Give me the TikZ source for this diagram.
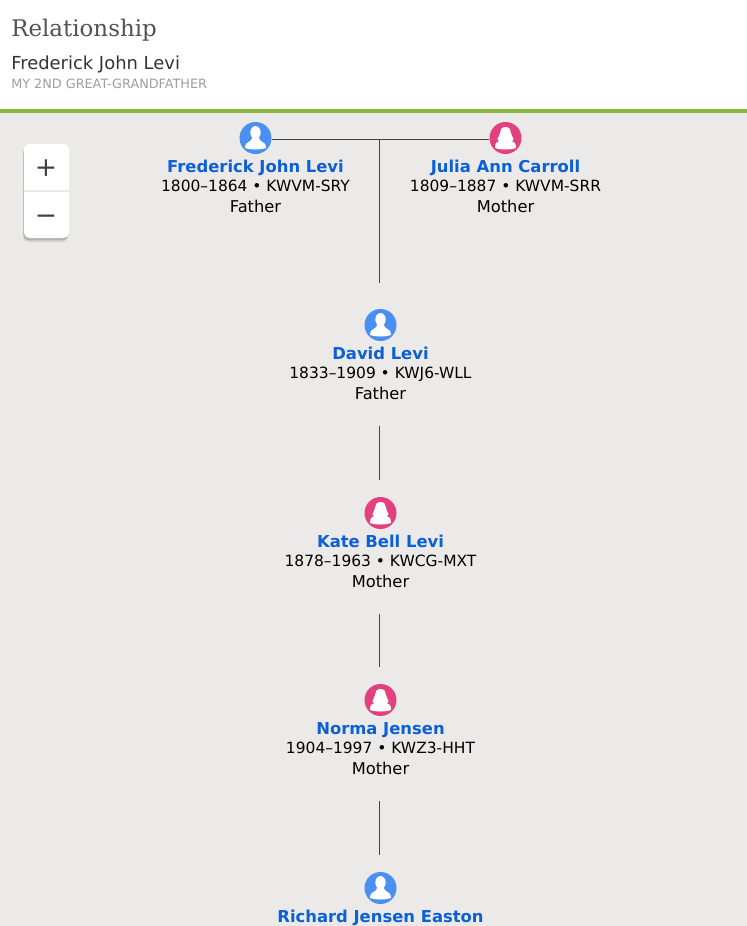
\documentclass[tikz,border=0pt]{standalone}
\usepackage{fontspec}
\usepackage{xcolor}
\usetikzlibrary{positioning, calc, shadows}
\setmainfont{DejaVu Sans}
\newfontfamily\slabfont{DejaVu Serif}
\definecolor{PageGray}{HTML}{ECEAE8}
\definecolor{LeafGreen}{HTML}{8AB83E}
\definecolor{MaleBlue}{HTML}{4A90F2}
\definecolor{FemalePink}{HTML}{E2407E}
\definecolor{NameBlue}{HTML}{0B60D6}
\definecolor{LinkGray}{HTML}{444444}

\begin{document}
\begin{tikzpicture}[
    x=0.75pt, y=-0.75pt,
    icon/.style={circle, inner sep=0pt, minimum size=24pt},
    maleicon/.style={icon, fill=MaleBlue},
    femaleicon/.style={icon, fill=FemalePink},
    nameline/.style={inner sep=0pt, text height=8pt, text depth=2pt, text=NameBlue, font=\fontsize{12.3pt}{14pt}\selectfont\bfseries},
    dateline/.style={inner sep=0pt, text height=8pt, text depth=2pt, font=\fontsize{11.6pt}{13pt}\selectfont},
    roleline/.style={inner sep=0pt, text height=8pt, text depth=2pt, font=\fontsize{12.2pt}{14pt}\selectfont},
    link/.style={draw=LinkGray, line width=0.85pt},
    zoomsign/.style={inner sep=0pt, text=black!75, font=\fontsize{20pt}{22pt}\selectfont},
    malebust/.pic={
        \fill[white] (0,-5.5) ellipse [x radius=5.2, y radius=6.5];
        \fill[white] (-10.3,8) .. controls (-10.3,4) and (-4,4.5) .. (-3,-1) -- (3,-1)
            .. controls (4,4.5) and (10.3,4) .. (10.3,8) -- (10.3,10)
            .. controls (5,12) and (-5,12) .. (-10.3,10) -- cycle;
    },
    femalebust/.pic={
        \fill[white] (0,-11) .. controls (-4,-11) and (-5.5,-8) .. (-5.5,-5)
            .. controls (-5.5,-2) and (-8,-1) .. (-8,1) .. controls (-8,2.5) and (-7,3) .. (-6,3)
            .. controls (-8,4) and (-10.3,4.5) .. (-10.3,8) -- (-10.3,10)
            .. controls (-5,12) and (5,12) .. (10.3,10) -- (10.3,8)
            .. controls (10.3,4.5) and (8,4) .. (6,3) .. controls (7,3) and (8,2.5) .. (8,1)
            .. controls (8,-1) and (5.5,-2) .. (5.5,-5) .. controls (5.5,-8) and (4,-11) .. (0,-11) -- cycle;
    }
]
    \useasboundingbox (0,0) rectangle (747,926);
    \clip (0,0) rectangle (747,926);

    % Page and header
    \fill[white] (0,0) rectangle (747,109);
    \fill[PageGray] (0,109) rectangle (747,926);
    \fill[LeafGreen] (0,109) rectangle (747,113);
    \node[anchor=base west, inner sep=0pt, text=black!68, font=\fontsize{17.2pt}{20pt}\slabfont] (title) at (11,36) {Relationship};
    \node[anchor=base west, inner sep=0pt, text=black!80, font=\fontsize{13.45pt}{16pt}\selectfont] (subject) at (11,69) {Frederick John Levi};
    \node[anchor=base west, inner sep=0pt, text=black!38, font=\fontsize{9.6pt}{11pt}\selectfont] (kinship) at (11,88) {MY 2ND GREAT-GRANDFATHER};

    % Zoom control
    \node[fill=white, rounded corners=4pt, minimum width=33.75pt, minimum height=70.5pt, inner sep=0pt,
          drop shadow={shadow xshift=-0.9pt, shadow yshift=-3pt, opacity=0.2},
          drop shadow={shadow xshift=-0.5pt, shadow yshift=-1.8pt, opacity=0.4}] (zoombox) at (46.5,191) {};
    \draw[PageGray, line width=0.9pt] (zoombox.west) -- (zoombox.east);
    \node[zoomsign] (zoomin) at (46,168) {+};
    \node[zoomsign] (zoomout) at (46,220) {−};

    % Icons
    \node[maleicon] (frederick) at (255.5,138) {};
    \node[femaleicon] (julia) at (505.5,138) {};
    \node[maleicon] (david) at (380.5,325) {};
    \node[femaleicon] (kate) at (380.5,513) {};
    \node[femaleicon] (norma) at (380.5,700) {};
    \node[maleicon] (richard) at (380.5,888) {};
    \coordinate (couple) at (379.7,139.5);

    \pic at (frederick) {malebust};
    \pic at (julia) {femalebust};
    \pic at (david) {malebust};
    \pic at (kate) {femalebust};
    \pic at (norma) {femalebust};
    \pic at (richard) {malebust};

    % Labels
    \node[nameline, below=5.7pt of frederick] (frederickname) {Frederick John Levi};
    \node[dateline, below=3.4pt of frederickname] (frederickdates) {1800–1864 • KWVM-SRY};
    \node[roleline, below=5.7pt of frederickdates] (frederickrole) {Father};

    \node[nameline, below=5.7pt of julia] (julianame) {Julia Ann Carroll};
    \node[dateline, below=3.4pt of julianame] (juliadates) {1809–1887 • KWVM-SRR};
    \node[roleline, below=5.7pt of juliadates] (juliarole) {Mother};

    \node[nameline, below=5.7pt of david] (davidname) {David Levi};
    \node[dateline, below=3.4pt of davidname] (daviddates) {1833–1909 • KWJ6-WLL};
    \node[roleline, below=5.7pt of daviddates] (davidrole) {Father};

    \node[nameline, below=5.7pt of kate] (katename) {Kate Bell Levi};
    \node[dateline, below=3.4pt of katename] (katedates) {1878–1963 • KWCG-MXT};
    \node[roleline, below=5.7pt of katedates] (katerole) {Mother};

    \node[nameline, below=5.7pt of norma] (normaname) {Norma Jensen};
    \node[dateline, below=3.4pt of normaname] (normadates) {1904–1997 • KWZ3-HHT};
    \node[roleline, below=5.7pt of normadates] (normarole) {Mother};

    \node[nameline, below=5.7pt of richard] (richardname) {Richard Jensen Easton};

    % Connectors
    \draw[link] (frederick.east |- couple) -- (julia.west |- couple);
    \draw[link, shorten >=19.5pt] (couple) -- (couple |- david.north);
    \draw[link, shorten <=17.4pt, shorten >=12.2pt] (davidrole.south -| couple) -- (couple |- kate.north);
    \draw[link, shorten <=17.4pt, shorten >=12.2pt] (katerole.south -| couple) -- (couple |- norma.north);
    \draw[link, shorten <=17.4pt, shorten >=12.2pt] (normarole.south -| couple) -- (couple |- richard.north);
\end{tikzpicture}
\end{document}
